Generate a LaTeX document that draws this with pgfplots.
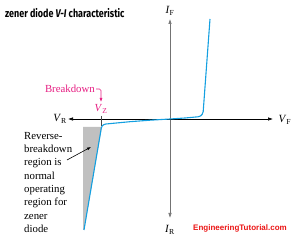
\documentclass[border=0pt]{standalone}
\usepackage{pgfplots}
\pgfplotsset{compat=1.18}
\usepackage{fontspec}
\setmainfont{Liberation Serif}
\newfontfamily\titlefont[FakeStretch=0.8]{Fira Sans}
\newfontfamily\webfont{Liberation Sans}
\usetikzlibrary{arrows.meta}
\definecolor{curve}{RGB}{20,160,225}
\definecolor{mag}{RGB}{230,30,130}
\definecolor{shade}{RGB}{192,192,192}
\definecolor{webred}{RGB}{235,20,20}
\begin{document}
\begin{tikzpicture}
\begin{axis}[width=300pt,height=240pt,scale only axis,xmin=0,xmax=300,ymin=0,ymax=240,hide axis,clip=false]
\path (axis cs:0,0) rectangle (axis cs:300,240);
% shaded breakdown region
\addplot[fill=shade,draw=none] coordinates {(83,113) (102,113) (84,10) (83,10)} -- cycle;
% axes
\addplot[black!55, line width=0.6pt, {Latex[length=5pt,width=3.5pt]}-{Latex[length=5pt,width=3.5pt]}] coordinates {(170,22) (170,221)};
\addplot[black, line width=0.6pt, {Latex[length=5pt,width=3.5pt]}-{Latex[length=5pt,width=3.5pt]}] coordinates {(68,121) (273,121)};
% V-I curve
\addplot[curve, line width=1.1pt] coordinates {
(84,10) (101.3,112) (102.2,114) (103.6,115.3) (106,116) (130,118.3) (150,119.8) (170,121)
(185,122) (198,123.2) (200.6,124.1) (202.2,125.7) (203.2,128.5) (210,221)};
% V_Z tick
\addplot[black!70, line width=0.6pt] coordinates {(101,124) (101,114)};
\end{axis}
\begin{scope}[x=1pt,y=1pt]
\node[mag, font=\fontsize{10.8}{13}\selectfont] at (101,131) {\textit{V}\textsubscript{Z}};
\node[mag, font=\fontsize{10.8}{13}\selectfont, anchor=east, inner sep=1pt] at (96,151) {Breakdown};
\draw[mag, line width=0.6pt, rounded corners=1.5pt, -{Latex[length=4pt,width=3pt]}] (96,151) -- (101,151) -- (101,138);
\node[anchor=north west, align=left, inner sep=0pt, font=\fontsize{10.8}{13.3}\selectfont] at (24,108) {Reverse-\\breakdown\\region is\\normal\\operating\\region for\\zener\\diode};
\draw[black, line width=0.6pt, -{Latex[length=4pt,width=3pt]}] (67,80) -- (91,93);
\node[font=\fontsize{11}{13}\selectfont] at (170,229) {\textit{I}\textsubscript{F}};
\node[font=\fontsize{11}{13}\selectfont] at (170,10) {\textit{I}\textsubscript{R}};
\node[font=\fontsize{11}{13}\selectfont] at (60,121) {\textit{V}\textsubscript{R}};
\node[font=\fontsize{11}{13}\selectfont] at (285,120) {\textit{V}\textsubscript{F}};
\node[anchor=west, inner sep=0pt, font=\titlefont\bfseries\fontsize{11.2}{13}\selectfont] at (5,227) {zener diode \textit{V-I} characteristic};
\node[webred, font=\webfont\bfseries\fontsize{8}{10}\selectfont] at (240,12) {EngineeringTutorial.com};
\end{scope}
\end{tikzpicture}
\end{document}
